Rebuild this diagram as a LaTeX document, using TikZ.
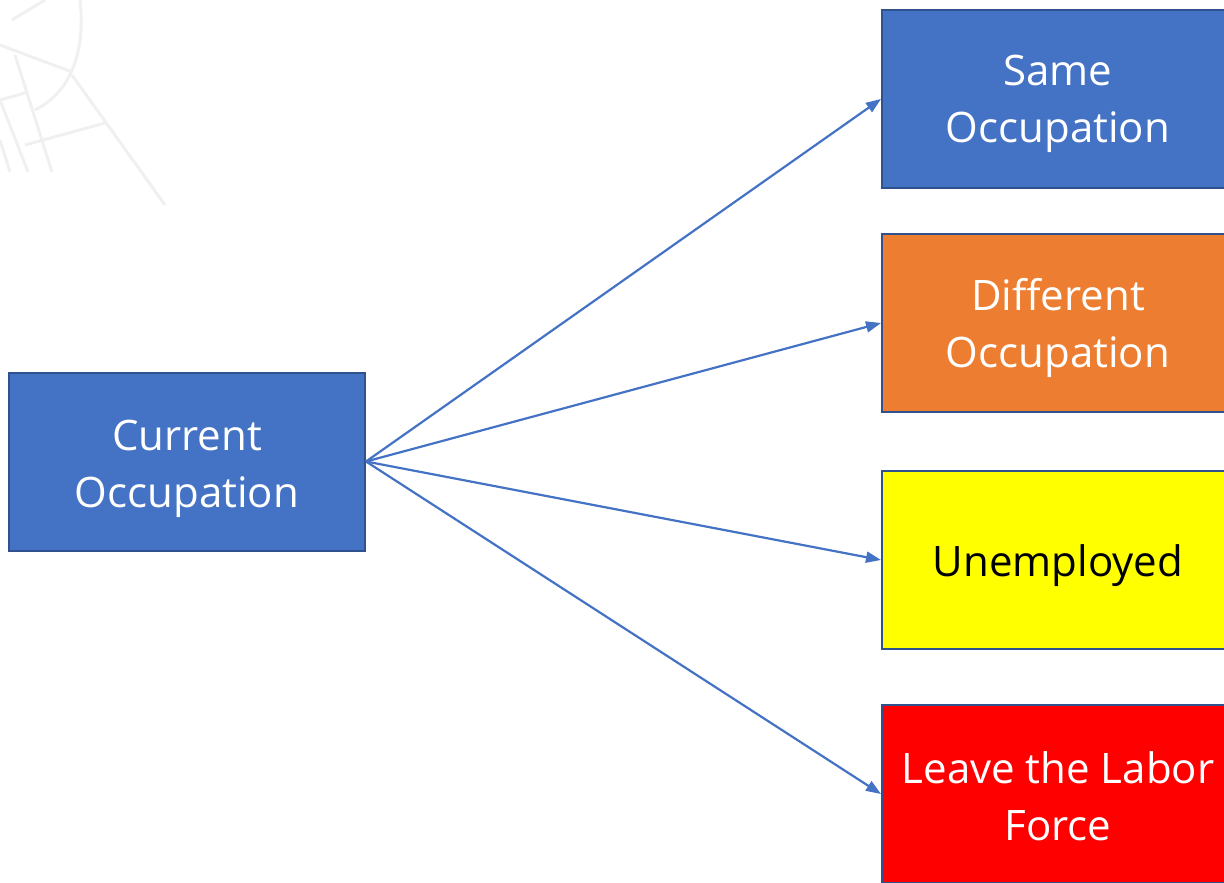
\documentclass[tikz,border=0pt]{standalone}
\usepackage{fontspec}
\setmainfont{Open Sans}
\usetikzlibrary{arrows.meta}
\definecolor{obl}{HTML}{4472C4}
\definecolor{oor}{HTML}{ED7D31}
\definecolor{oye}{HTML}{FFFF00}
\definecolor{ore}{HTML}{FF0000}
\definecolor{obd}{HTML}{2F528F}
\definecolor{faint}{HTML}{F0F0F0}
\tikzset{
  box/.style={draw=obd, line width=2pt, minimum width=356pt, minimum height=178pt, inner sep=0pt},
  rbox/.style={box, minimum width=354pt, anchor=north west},
  lbl/.style={font=\fontsize{42}{57}\selectfont, align=center, text=white},
  conn/.style={draw=obl, line width=2.2pt, -{Triangle[length=15pt,width=11pt]}},
  bg/.style={draw=faint, line width=3pt}
}
\begin{document}
\begin{tikzpicture}[x=1pt,y=-1pt]
\useasboundingbox (0,0) rectangle (1224,883);
\clip (0,0) rectangle (1224,883);
% faint background sketch
\draw[bg] (12,20) -- (45,0);
\draw[bg] (80,0) .. controls (85,45) and (75,90) .. (35,110);
\draw[bg] (0,45) -- (72,72);
\draw[bg] (72,75) -- (165,205);
\draw[bg] (15,55) -- (52,172);
\draw[bg] (0,100) -- (28,172);
\draw[bg] (0,100) -- (25,93);
\draw[bg] (25,145) -- (105,123);
\draw[bg] (0,140) -- (10,172);
% boxes
\node[box, fill=obl] (cur) at (187,461.5) {};
\node[lbl] (curt) at (187,469) {Current\\Occupation};
\node[rbox, fill=obl] (same) at (881,9) {};
\node[lbl] (samet) at (1058,103.5) {Same\\Occupation};
\node[rbox, fill=oor] (diff) at (881,233) {};
\node[lbl] (difft) at (1058,327.5) {Different\\Occupation};
\node[rbox, fill=oye] (unemp) at (881,470) {};
\node[lbl, text=black] (unempt) at (1058,566) {Unemployed};
\node[rbox, fill=ore] (leave) at (881,704) {};
\node[lbl] (leavet) at (1058,796) {Leave the Labor\\Force};
% connectors
\draw[conn] (cur.east) -- (same.west);
\draw[conn] (cur.east) -- (diff.west);
\draw[conn] (cur.east) -- (unemp.west);
\draw[conn] (cur.east) -- (leave.west);
\end{tikzpicture}
\end{document}
